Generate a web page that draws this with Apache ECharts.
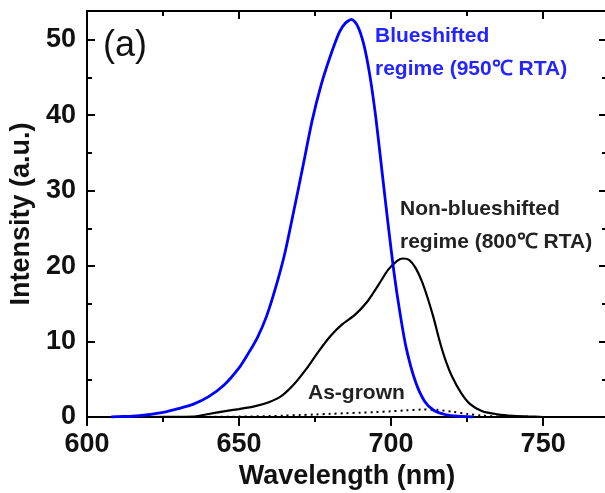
<!DOCTYPE html>
<html>
<head>
<meta charset="utf-8">
<script src="https://cdn.jsdelivr.net/npm/echarts@6/dist/echarts.min.js"></script>
<style>html,body{margin:0;padding:0;background:#fff}#c{width:605px;height:493px}</style>
</head>
<body>
<div id="c"></div>
<script>
// Wavelength (nm) and intensity (a.u.)
const blueWl  = [608, 610, 615, 620, 625, 630, 635, 640, 645, 650, 653, 656, 659, 662, 665, 668, 671, 674, 677, 680, 683, 685, 687, 689, 691, 693, 695, 697, 699, 701, 703, 705, 708, 711, 714, 718, 722, 727];
const blueVal = [0, 0.05, 0.1, 0.3, 0.6, 1.1, 1.7, 2.7, 4.2, 6.5, 8.4, 10.5, 13.3, 17.1, 21.6, 27.3, 33.2, 39.2, 44.0, 47.8, 51.0, 52.2, 52.7, 51.8, 49.4, 45.3, 39.6, 32.6, 25.6, 19.0, 13.6, 9.1, 4.7, 2.1, 0.9, 0.3, 0.1, 0];

const blackWl  = [620, 630, 636, 640, 645, 650, 655, 660, 664, 668, 672, 676, 680, 684, 688, 692, 696, 699, 702, 704, 706, 708, 710, 712, 714, 716, 718, 720, 723, 726, 730, 735, 740, 745, 750];
const blackVal = [0, 0.02, 0.1, 0.4, 0.75, 1.05, 1.4, 2.0, 2.8, 4.3, 6.3, 8.6, 10.7, 12.3, 13.5, 15.2, 17.6, 19.5, 20.7, 21.0, 20.8, 19.8, 18.1, 15.8, 13.1, 10.0, 7.4, 5.4, 3.2, 1.7, 0.75, 0.35, 0.15, 0.07, 0];

const asWl  = [640, 650, 660, 665, 670, 675, 680, 685, 690, 695, 700, 705, 710, 715, 720, 725, 730, 735, 740];
const asVal = [0.02, 0.05, 0.12, 0.18, 0.25, 0.33, 0.42, 0.5, 0.58, 0.66, 0.76, 0.88, 0.98, 0.95, 0.7, 0.4, 0.18, 0.07, 0.02];

const labels = {
  blue: ['Blueshifted', 'regime (950\u2103 RTA)'],
  black: ['Non-blueshifted', 'regime (800\u2103 RTA)'],
  asGrown: 'As-grown',
  panel: '(a)'
};

const zip = (xs, ys) => xs.map((x, i) => [x, ys[i]]);
const FONT = '"Liberation Sans", Arial, sans-serif';
const lineStyleAxis = { color: '#000', width: 2 };

const chart = echarts.init(document.getElementById('c'), null, { renderer: 'canvas' });
chart.setOption({
  animation: false,
  backgroundColor: '#fff',
  grid: { left: 87, top: 11, width: 520, height: 406, outerBoundsMode: 'none', containLabel: false },
  xAxis: [
    {
      type: 'value', min: 600, max: 771, interval: 50, position: 'bottom',
      name: 'Wavelength (nm)', nameLocation: 'middle', nameGap: 43,
      nameTextStyle: { fontFamily: FONT, fontWeight: 'bold', fontSize: 27, color: '#111' },
      axisLine: { show: true, onZero: false, lineStyle: lineStyleAxis },
      axisTick: { show: true, inside: false, length: 9, lineStyle: { color: '#000', width: 2 } },
      minorTick: { show: true, splitNumber: 2, length: 5, lineStyle: { color: '#000', width: 2 } },
      axisLabel: { show: true, margin: 14, showMaxLabel: false, fontFamily: FONT, fontWeight: 'bold', fontSize: 27, color: '#111' },
      splitLine: { show: false }
    },
    {
      type: 'value', min: 600, max: 771, interval: 50, position: 'top',
      axisLine: { show: true, onZero: false, lineStyle: lineStyleAxis },
      axisTick: { show: true, inside: true, length: 8, lineStyle: { color: '#000', width: 2 } },
      minorTick: { show: true, splitNumber: 2, length: 5, lineStyle: { color: '#000', width: 2 } },
      axisLabel: { show: false },
      splitLine: { show: false }
    }
  ],
  yAxis: [
    {
      type: 'value', min: 0, max: 53.8, interval: 10, position: 'left',
      name: 'Intensity (a.u.)', nameLocation: 'middle', nameGap: 50, nameRotate: 90,
      nameTextStyle: { fontFamily: FONT, fontWeight: 'bold', fontSize: 27, color: '#111' },
      axisLine: { show: true, onZero: false, lineStyle: lineStyleAxis },
      axisTick: { show: true, inside: true, length: 8, lineStyle: { color: '#000', width: 2 } },
      minorTick: { show: true, splitNumber: 2, length: 5, lineStyle: { color: '#000', width: 2 } },
      axisLabel: { show: true, margin: 11, showMaxLabel: false, fontFamily: FONT, fontWeight: 'bold', fontSize: 27, color: '#111' },
      splitLine: { show: false }
    },
    {
      type: 'value', min: 0, max: 53.8, interval: 10, position: 'right',
      axisLine: { show: true, onZero: false, lineStyle: lineStyleAxis },
      axisTick: { show: true, inside: true, length: 8, lineStyle: { color: '#000', width: 2 } },
      minorTick: { show: true, splitNumber: 2, length: 5, lineStyle: { color: '#000', width: 2 } },
      axisLabel: { show: false },
      splitLine: { show: false }
    }
  ],
  series: [
    {
      name: 'As-grown', type: 'line', xAxisIndex: 0, yAxisIndex: 0,
      data: zip(asWl, asVal), showSymbol: false, smooth: 0.3,
      lineStyle: { color: '#000', width: 2, type: [2, 4] }, z: 2
    },
    {
      name: '800C', type: 'line', xAxisIndex: 0, yAxisIndex: 0,
      data: zip(blackWl, blackVal), showSymbol: false, smooth: 0.25,
      lineStyle: { color: '#000', width: 2.2 }, z: 3
    },
    {
      name: '950C', type: 'line', xAxisIndex: 0, yAxisIndex: 0,
      data: zip(blueWl, blueVal), showSymbol: false, smooth: 0.25,
      lineStyle: { color: '#0000ff', width: 2.8 }, z: 4
    }
  ],
  graphic: [
    { type: 'text', left: 103, top: 28, style: { text: labels.panel, font: '36px ' + FONT, fill: '#111' } },
    { type: 'text', x: 375, y: 36, style: { text: labels.blue[0], font: 'bold 21px ' + FONT, fill: '#2424ff', verticalAlign: 'middle' } },
    { type: 'text', x: 375, y: 69, style: { text: labels.blue[1], font: 'bold 21px ' + FONT, fill: '#2424ff', verticalAlign: 'middle' } },
    { type: 'text', x: 400, y: 209.5, style: { text: labels.black[0], font: 'bold 21px ' + FONT, fill: '#222', verticalAlign: 'middle' } },
    { type: 'text', x: 400, y: 242.5, style: { text: labels.black[1], font: 'bold 21px ' + FONT, fill: '#222', verticalAlign: 'middle' } },
    { type: 'text', x: 308, y: 393, style: { text: labels.asGrown, font: 'bold 21px ' + FONT, fill: '#222', verticalAlign: 'middle' } }
  ]
});
</script>
</body>
</html>
